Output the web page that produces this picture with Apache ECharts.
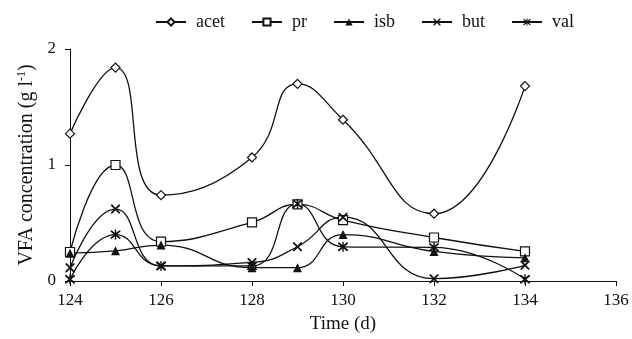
<!DOCTYPE html>
<html><head><meta charset="utf-8">
<script src="https://cdn.jsdelivr.net/npm/echarts@6/dist/echarts.min.js"></script>
<style>html,body{margin:0;padding:0;background:#fff}#c{width:632px;height:339px}</style>
</head><body><div id="c"></div>
<script>
const days = [124, 125, 126, 128, 129, 130, 132, 134];
const acet = [1.27, 1.84, 0.74, 1.065, 1.70, 1.39, 0.58, 1.68];
const pr   = [0.25, 1.00, 0.34, 0.505, 0.66, 0.525, 0.375, 0.255];
const isb  = [0.24, 0.26, 0.31, 0.115, 0.115, 0.40, 0.255, 0.20];
const but  = [0.115, 0.62, 0.13, 0.16, 0.295, 0.55, 0.02, 0.135];
const val  = [0.015, 0.40, 0.13, 0.13, 0.665, 0.295, 0.29, 0.015];
const xTicks = [124, 126, 128, 130, 132, 134, 136];
const yTicks = [0, 1, 2];

const FONT = '"Liberation Serif", "Times New Roman", serif';
const crossPath = 'path://M0,0 L1.4,0 L10,8.6 L10,10 L8.6,10 L0,1.4Z M8.6,0 L10,0 L10,1.4 L1.4,10 L0,10 L0,8.6Z';
const starPath = 'path://M0,0 L1.4,0 L10,8.6 L10,10 L8.6,10 L0,1.4Z M8.6,0 L10,0 L10,1.4 L1.4,10 L0,10 L0,8.6Z M4.3,-1 L5.7,-1 L5.7,11 L4.3,11Z';

function mk(name, data, symbol, size, fill) {
  return {
    name, type: 'line', smooth: 0.5,
    data: days.map((d, i) => [d, data[i]]),
    symbol, symbolSize: size,
    lineStyle: { color: '#111', width: 1.3 },
    itemStyle: { color: fill, borderColor: '#111', borderWidth: fill === '#fff' ? 1.2 : 0 },
    emphasis: { disabled: true }
  };
}

const chart = echarts.init(document.getElementById('c'), null, { renderer: 'canvas' });
chart.setOption({
  animation: false,
  backgroundColor: '#fff',
  legend: {
    top: 8, left: 150, itemWidth: 30, itemHeight: 9, itemGap: 26,
    textStyle: { fontFamily: FONT, fontSize: 18, color: '#111', padding: [0, 0, 0, 5] },
    data: ['acet', 'pr', 'isb', 'but', 'val']
  },
  grid: { left: 70, right: 16, top: 49, bottom: 58 },
  xAxis: {
    type: 'value', min: xTicks[0], max: xTicks[xTicks.length - 1], interval: 2,
    name: 'Time (d)', nameLocation: 'middle', nameGap: 34,
    nameTextStyle: { fontFamily: FONT, fontSize: 19, color: '#111' },
    axisLine: { lineStyle: { color: '#111', width: 1 } },
    axisTick: { length: 5, lineStyle: { color: '#111' } },
    axisLabel: { fontFamily: FONT, fontSize: 17, color: '#111', margin: 11 },
    splitLine: { show: false }
  },
  yAxis: {
    type: 'value', min: yTicks[0], max: yTicks[yTicks.length - 1], interval: 1,
    name: '{a|VFA concentration (g l}{s|-1}{a|)}', nameLocation: 'middle', nameGap: 32,
    nameTextStyle: { rich: {
      a: { fontFamily: FONT, fontSize: 20, color: '#111' },
      s: { fontFamily: FONT, fontSize: 12, color: '#111', verticalAlign: 'top', padding: [0,0,9,0] }
    } },
    axisLine: { show: true, lineStyle: { color: '#111', width: 1 } },
    axisTick: { show: true, length: 5, lineStyle: { color: '#111' } },
    axisLabel: { fontFamily: FONT, fontSize: 17, color: '#111', margin: 14 },
    splitLine: { show: false }
  },
  series: [
    mk('acet', acet, 'diamond', 9, '#fff'),
    mk('pr', pr, 'rect', 9, '#fff'),
    mk('isb', isb, 'triangle', 9, '#111'),
    mk('but', but, crossPath, 9, '#111'),
    mk('val', val, starPath, 10, '#111')
  ]
});
</script></body></html>
